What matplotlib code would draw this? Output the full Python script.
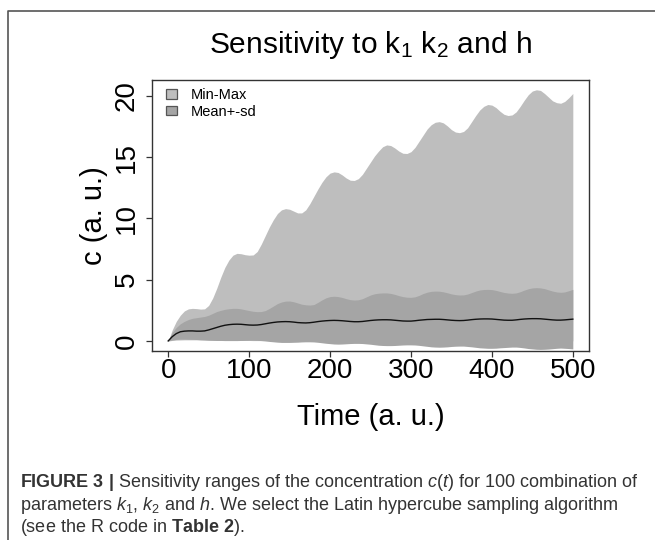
import numpy as np
import matplotlib
matplotlib.use("Agg")
import matplotlib.pyplot as plt
from matplotlib.patches import Patch
from matplotlib.lines import Line2D

# Liberation Sans ~ Helvetica (R default); mathtext with the same font for subscripts
plt.rcParams['font.family'] = ['Liberation Sans', 'DejaVu Sans']
plt.rcParams['mathtext.fontset'] = 'custom'
plt.rcParams['mathtext.rm'] = 'Liberation Sans'
plt.rcParams['mathtext.it'] = 'Liberation Sans:italic'
plt.rcParams['mathtext.bf'] = 'Liberation Sans:bold'

# ---- data, time step 5 ----
time = np.arange(0, 501, 5)

max_c = [
    0, 0.9, 1.6, 2.1, 2.45, 2.62, 2.66, 2.64, 2.6, 2.62,               # 0-45
    2.9, 3.5, 4.3, 5.2, 6.0, 6.6, 7.0, 7.15, 7.12, 7.04,               # 50-95
    7.0, 7.02, 7.3, 7.9, 8.6, 9.3, 9.9, 10.4, 10.7, 10.8,              # 100-145
    10.75, 10.6, 10.45, 10.45, 10.7, 11.2, 11.8, 12.4, 12.95, 13.4,    # 150-195
    13.7, 13.8, 13.75, 13.55, 13.3, 13.12, 13.1, 13.25, 13.6, 14.1,    # 200-245
    14.6, 15.1, 15.5, 15.85, 16.0, 15.95, 15.75, 15.5, 15.32, 15.3,    # 250-295
    15.45, 15.8, 16.3, 16.8, 17.3, 17.65, 17.85, 17.9, 17.8, 17.55,    # 300-345
    17.25, 17.05, 17.0, 17.1, 17.4, 17.9, 18.4, 18.85, 19.15, 19.3,    # 350-395
    19.25, 19.05, 18.75, 18.5, 18.4, 18.45, 18.7, 19.15, 19.65, 20.1,  # 400-445
    20.4, 20.5, 20.45, 20.2, 19.9, 19.6, 19.45, 19.4, 19.55, 19.85,    # 450-495
    20.2,                                                              # 500
]

min_c = [
    0, 0.04, 0.07, 0.08, 0.09, 0.09, 0.09, 0.09, 0.08, 0.08,
    0.07, 0.07, 0.06, 0.06, 0.05, 0.05, 0.05, 0.04, 0.04, 0.04,
    0.04, 0.03, 0.03, 0.03, 0.03, 0.03, 0.02, 0.02, 0.02, 0.02,
    0.02, 0.02, 0.02, 0.02, 0.02, 0.02, 0.02, 0.02, 0.02, 0.02,
    0.02, 0.02, 0.02, 0.02, 0.02, 0.02, 0.02, 0.02, 0.02, 0.02,
    0.01, 0.01, 0.01, 0.01, 0.01, 0.01, 0.01, 0.01, 0.01, 0.01,
    0.01, 0.01, 0.01, 0.01, 0.01, 0.01, 0.01, 0.01, 0.01, 0.01,
    0.01, 0.01, 0.01, 0.01, 0.01, 0.01, 0.01, 0.01, 0.01, 0.01,
    0.01, 0.01, 0.01, 0.01, 0.01, 0.01, 0.01, 0.01, 0.01, 0.01,
    0.01, 0.01, 0.01, 0.01, 0.01, 0.01, 0.01, 0.01, 0.01, 0.01,
    0.01,
]

mean_plus_sd = [
    0, 0.7, 1.1, 1.4, 1.6, 1.75, 1.85, 1.9, 1.95, 2.0,
    2.1, 2.25, 2.4, 2.5, 2.58, 2.63, 2.66, 2.66, 2.62, 2.55,
    2.48, 2.42, 2.39, 2.4, 2.48, 2.65, 2.85, 3.05, 3.18, 3.25,
    3.26, 3.2, 3.1, 3.0, 2.95, 2.93, 2.97, 3.15, 3.35, 3.52,
    3.62, 3.65, 3.62, 3.55, 3.45, 3.37, 3.34, 3.36, 3.45, 3.6,
    3.75, 3.85, 3.9, 3.92, 3.92, 3.88, 3.8, 3.7, 3.62, 3.57,
    3.56, 3.6, 3.72, 3.87, 3.98, 4.05, 4.07, 4.06, 4.01, 3.93,
    3.84, 3.78, 3.75, 3.76, 3.83, 3.95, 4.07, 4.16, 4.2, 4.21,
    4.19, 4.13, 4.04, 3.96, 3.91, 3.89, 3.92, 4.02, 4.15, 4.26,
    4.33, 4.35, 4.33, 4.27, 4.17, 4.07, 4.0, 3.97, 4.0, 4.1,
    4.21,
]

mean_minus_sd = [
    0, 0.08, 0.13, 0.15, 0.15, 0.14, 0.13, 0.12, 0.1, 0.08,
    0.06, 0.05, 0.04, 0.04, 0.03, 0.03, 0.03, 0.03, 0.04, 0.05,
    0.06, 0.06, 0.05, 0.03, 0.0, -0.04, -0.07, -0.1, -0.12, -0.12,
    -0.12, -0.11, -0.1, -0.08, -0.07, -0.07, -0.08, -0.11, -0.15, -0.19,
    -0.22, -0.25, -0.26, -0.25, -0.23, -0.21, -0.2, -0.2, -0.21, -0.24,
    -0.27, -0.31, -0.35, -0.37, -0.38, -0.38, -0.37, -0.35, -0.33, -0.32,
    -0.32, -0.33, -0.36, -0.4, -0.44, -0.48, -0.5, -0.51, -0.5, -0.48,
    -0.45, -0.43, -0.42, -0.42, -0.45, -0.48, -0.52, -0.56, -0.58, -0.6,
    -0.6, -0.59, -0.56, -0.54, -0.52, -0.5, -0.5, -0.53, -0.57, -0.62,
    -0.65, -0.68, -0.69, -0.68, -0.66, -0.63, -0.6, -0.58, -0.6, -0.62,
    -0.65,
]

mean_c = [
    0, 0.35, 0.6, 0.75, 0.8, 0.82, 0.82, 0.8, 0.8, 0.82,
    0.9, 1.0, 1.1, 1.2, 1.28, 1.33, 1.36, 1.37, 1.36, 1.33,
    1.3, 1.29, 1.3, 1.34, 1.4, 1.46, 1.51, 1.55, 1.57, 1.58,
    1.57, 1.54, 1.5, 1.48, 1.47, 1.49, 1.53, 1.58, 1.62, 1.65,
    1.67, 1.68, 1.67, 1.65, 1.62, 1.59, 1.57, 1.57, 1.59, 1.63,
    1.67, 1.7, 1.72, 1.73, 1.73, 1.72, 1.69, 1.66, 1.63, 1.62,
    1.62, 1.65, 1.69, 1.72, 1.75, 1.76, 1.77, 1.77, 1.75, 1.72,
    1.69, 1.67, 1.66, 1.67, 1.7, 1.74, 1.77, 1.79, 1.8, 1.8,
    1.79, 1.76, 1.73, 1.7, 1.69, 1.69, 1.72, 1.76, 1.79, 1.81,
    1.82, 1.82, 1.81, 1.78, 1.75, 1.72, 1.7, 1.7, 1.72, 1.75,
    1.78,
]

x_ticks = [0, 100, 200, 300, 400, 500]
y_ticks = [0, 5, 10, 15, 20]
legend_labels = ["Min-Max", "Mean+-sd"]

title = r"Sensitivity to $\mathrm{k}_1$ $\mathrm{k}_2$ and h"
x_label = "Time (a. u.)"
y_label = "c (a. u.)"
caption = [
    r"$\mathbf{FIGURE\ 3\ |}$ Sensitivity ranges of the concentration $c$($t$) for 100 combination of",
    r"parameters $k_1$, $k_2$ and $h$. We select the Latin hypercube sampling algorithm",
    r"(see the R code in $\mathbf{Table\ 2}$).",
]

# ---- figure ----
W, H = 655, 540
fig = plt.figure(figsize=(W / 100, H / 100), dpi=100)


def fx(px):
    return px / W


def fy(py):
    return 1 - py / H


light = "#bebebe"
dark = "#a5a5a5"
edge = "#333333"

ax = fig.add_axes([fx(152), fy(351), (589 - 152) / W, (351 - 80) / H])
ax.fill_between(time, min_c, max_c, color=light, lw=0)
ax.fill_between(time, mean_minus_sd, mean_plus_sd, color=dark, lw=0)
ax.plot(time, mean_c, color="#111111", lw=1.0)

ax.set_xlim(-20, 520)
ax.set_ylim(-0.82, 21.3)
ax.set_xticks(x_ticks)
ax.set_yticks(y_ticks)
ax.tick_params(axis="both", labelsize=20, length=4.3, width=0.9, color=edge, direction="out")
ax.tick_params(axis="x", pad=1)
ax.tick_params(axis="y", pad=4.5, labelrotation=90)
for lab in ax.get_yticklabels():
    lab.set_va("center")
for s in ax.spines.values():
    s.set_color(edge)
    s.set_linewidth(1)

handles = [Patch(facecolor=light, edgecolor="#555555", lw=0.9),
           Patch(facecolor=dark, edgecolor="#555555", lw=0.9)]
ax.legend(handles, legend_labels, loc="upper left", bbox_to_anchor=(0.0313, 0.970),
          frameon=False, fontsize=10.5, handlelength=0.75, handleheight=0.6,
          handletextpad=0.96, borderpad=0, borderaxespad=0, labelspacing=0.18)

# title and axis labels placed on the pixel grid of the reference
fig.text(fx(370.5), fy(53), title, ha="center", va="baseline", fontsize=21.5)
fig.text(fx(370.5), fy(425), x_label, ha="center", va="baseline", fontsize=21)
fig.text(fx(102), fy(215.5), y_label, ha="center", va="baseline", fontsize=21,
         rotation=90, rotation_mode="anchor")

# caption below the chart
for i, line in enumerate(caption):
    fig.text(fx(20), fy(487 + 22.5 * i), line, ha="left", va="baseline",
             fontsize=13, color="#333333")

# panel frame (top and left edges)
fig.add_artist(Line2D([fx(7.5), fx(7.5), 1.0], [0.0, fy(10.5), fy(10.5)],
                      transform=fig.transFigure, color="#555555", lw=1.2))

fig.savefig("out.png", dpi=100)
